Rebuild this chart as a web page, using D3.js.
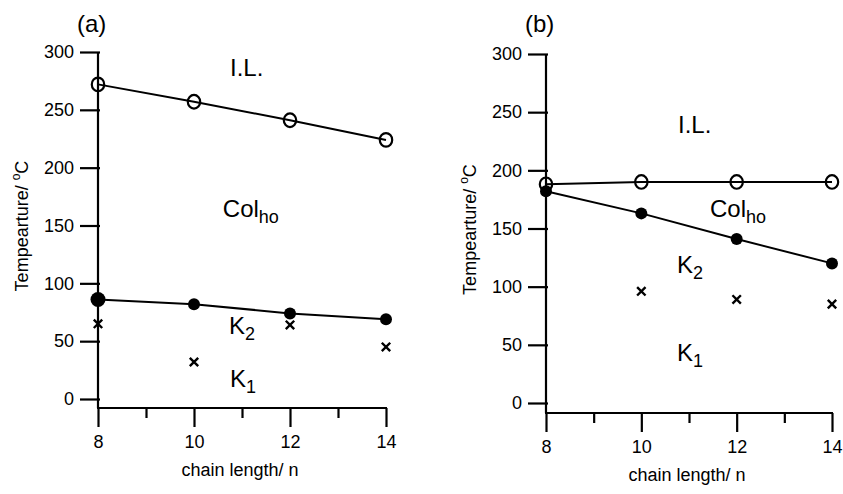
<!DOCTYPE html>
<head>
<meta charset="utf-8">
<style>
    body { margin: 0; background: #fff; }
    text { font-family: Arial, "Liberation Sans", sans-serif; fill: #000; }
    .axis path { display: none; }
    .axis line { stroke: #000; stroke-width: 2.2px; }
    .axis text { font-size: 18px; }
</style>
</head>
<body>
<script src="https://d3js.org/d3.v7.min.js"></script>
<script>

    //////////////////////////
    ////////// DATA //////////
    //////////////////////////

    const chainN = [8, 10, 12, 14];
    const xTicks = [8, 9, 10, 11, 12, 13, 14];
    const yTicks = [0, 50, 100, 150, 200, 250, 300];

    // panel (a)
    const clearA = [272, 257, 241, 224];
    const meltA = [86, 82, 74, 69];
    const crossNA = [8, 10, 12, 14];
    const crossA = [65, 32, 64, 45];

    // panel (b)
    const clearB = [188, 190, 190, 190];
    const meltB = [182, 163, 141, 120];
    const crossNB = [10, 12, 14];
    const crossB = [96, 89, 85];

    // phase names, placed in data units (n, T)
    const phasesA = [
        { text: 'I.L.', sub: '', n: 10.75, t: 279 },
        { text: 'Col', sub: 'ho', n: 10.6, t: 157 },
        { text: 'K', sub: '2', n: 10.73, t: 56 },
        { text: 'K', sub: '1', n: 10.75, t: 10 }
    ];
    const phasesB = [
        { text: 'I.L.', sub: '', n: 10.77, t: 232 },
        { text: 'Col', sub: 'ho', n: 11.44, t: 160 },
        { text: 'K', sub: '2', n: 10.75, t: 112 },
        { text: 'K', sub: '1', n: 10.75, t: 36 }
    ];

    ///////////////////////////
    ////////// SETUP //////////
    ///////////////////////////

    const W = 843, H = 494;
    let svg = d3.select('body').append('svg')
        .attr('width', W)
        .attr('height', H);

    const panels = [
        { tag: '(a)', left: 98, right: 386, top: 52, zero: 399, axisY: 408,
          clear: clearA, melt: meltA, crossN: crossNA, cross: crossA, phases: phasesA, bigFirst: true },
        { tag: '(b)', left: 546, right: 832, top: 54, zero: 403, axisY: 413,
          clear: clearB, melt: meltB, crossN: crossNB, cross: crossB, phases: phasesB, bigFirst: false }
    ];

    panels.forEach(drawPanel);

    function drawPanel(p) {
        let g = svg.append('g');
        let x = d3.scaleLinear().domain([8, 14]).range([p.left, p.right]);
        let y = d3.scaleLinear().domain([0, 300]).range([p.zero, p.top]);

        // y axis ticks + labels
        g.append('g').attr('class', 'axis')
            .attr('transform', 'translate(' + (p.left + 2) + ',0)')
            .call(d3.axisLeft(y).tickValues(yTicks).tickSize(20).tickPadding(6).tickSizeOuter(0));

        // x axis
        let xa = g.append('g').attr('class', 'axis')
            .attr('transform', 'translate(0,' + p.axisY + ')')
            .call(d3.axisBottom(x).tickValues(xTicks).tickSize(19).tickPadding(8).tickSizeOuter(0)
                .tickFormat(d => d % 2 === 0 ? d : ''));
        xa.selectAll('.tick line').attr('y2', d => d % 2 === 0 ? 19 : 10);

        // axis lines
        g.append('line')
            .attr('x1', x(8)).attr('x2', x(8))
            .attr('y1', y(300)).attr('y2', p.axisY)
            .attr('stroke', '#000').attr('stroke-width', 2.2);
        g.append('line')
            .attr('x1', x(8) - 1).attr('x2', x(14) + 1)
            .attr('y1', p.axisY).attr('y2', p.axisY)
            .attr('stroke', '#000').attr('stroke-width', 2.2);

        // titles
        g.append('text')
            .attr('x', (p.left + p.right) / 2 - 2)
            .attr('y', p.axisY + 68)
            .attr('text-anchor', 'middle')
            .style('font-size', '18px')
            .text('chain length/ n');

        let yt = g.append('text')
            .attr('transform', 'translate(' + (p.left - 70) + ',' + ((p.top + p.axisY) / 2 - 4) + ') rotate(-90)')
            .attr('text-anchor', 'middle')
            .style('font-size', '18px');
        yt.append('tspan').text('Tempearture/ ');
        yt.append('tspan').attr('dy', -8).style('font-size', '12px').text('o');
        yt.append('tspan').attr('dy', 8).text('C');

        g.append('text')
            .attr('x', p.left - 21)
            .attr('y', 32)
            .style('font-size', '24px')
            .text(p.tag);

        // lines
        let line = d3.line().x((d, i) => x(chainN[i])).y(d => y(d));
        g.append('path').datum(p.clear)
            .attr('d', line).attr('fill', 'none').attr('stroke', '#000').attr('stroke-width', 2);
        g.append('path').datum(p.melt)
            .attr('d', line).attr('fill', 'none').attr('stroke', '#000').attr('stroke-width', 2);

        // filled markers
        g.selectAll('.melt').data(p.melt).enter().append('circle')
            .attr('cx', (d, i) => x(chainN[i]))
            .attr('cy', d => y(d))
            .attr('r', (d, i) => (p.bigFirst && i === 0) ? 7.5 : 6)
            .attr('fill', '#000');

        // open markers
        g.selectAll('.clear').data(p.clear).enter().append('ellipse')
            .attr('cx', (d, i) => x(chainN[i]))
            .attr('cy', d => y(d))
            .attr('rx', 6.2).attr('ry', 6.8)
            .attr('fill', 'none')
            .attr('stroke', '#000').attr('stroke-width', 2.2);

        // crosses
        let cs = 4.2;
        g.selectAll('.cross').data(p.cross).enter().append('path')
            .attr('transform', (d, i) => 'translate(' + x(p.crossN[i]) + ',' + y(d) + ')')
            .attr('d', 'M' + -cs + ',' + -cs + 'L' + cs + ',' + cs + 'M' + -cs + ',' + cs + 'L' + cs + ',' + -cs)
            .attr('stroke', '#000').attr('stroke-width', 2.4);

        // phase names
        p.phases.forEach(ph => {
            let t = g.append('text')
                .attr('x', x(ph.n)).attr('y', y(ph.t))
                .style('font-size', '24px');
            t.append('tspan').text(ph.text);
            if (ph.sub) t.append('tspan').attr('dy', 6).style('font-size', '18px').text(ph.sub);
        });
    }

</script>
</body>
